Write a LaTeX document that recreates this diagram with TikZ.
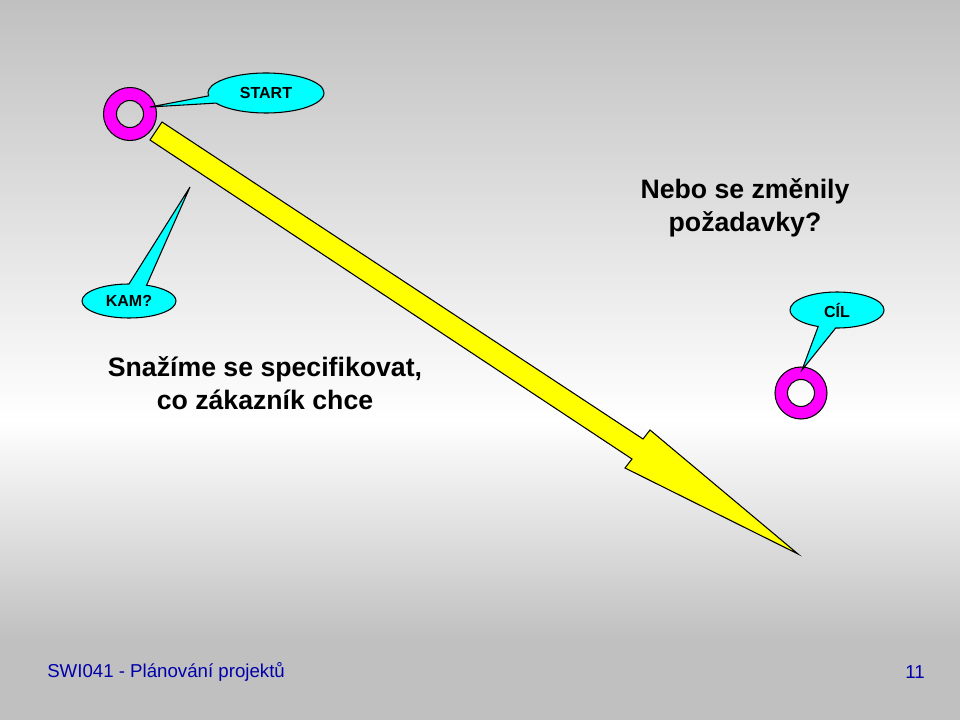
\documentclass[tikz,border=0pt]{standalone}
\usepackage{fontspec}
\setmainfont{Liberation Sans}
\usetikzlibrary{shapes.callouts}
\definecolor{bggray}{RGB}{192,192,192}
\definecolor{ringpink}{RGB}{255,0,255}
\definecolor{bubblecyan}{RGB}{0,255,255}
\definecolor{arrowyellow}{RGB}{255,255,0}
\definecolor{footblue}{RGB}{0,0,170}

\begin{document}
\begin{tikzpicture}[
    x=0.75pt,
    y=-0.75pt,
    line join=miter
]

\tikzset{
    bubble/.style={
        ellipse callout,
        draw=black,
        fill=bubblecyan,
        line width=0.8pt,
        inner sep=0pt,
        font=\fontsize{12}{14}\selectfont\bfseries
    },
    ring/.style={
        draw=black,
        fill=ringpink,
        line width=0.8pt,
        even odd rule
    },
    big/.style={
        align=center,
        inner sep=0pt,
        font=\fontsize{20}{24.5}\selectfont\bfseries
    },
    foot/.style={
        inner sep=0pt,
        text=footblue,
        font=\fontsize{14}{16}\selectfont
    }
}

\useasboundingbox (0,0) rectangle (960,720);
\shade[top color=bggray, bottom color=white] (0,0) rectangle (960,420);
\shade[top color=white, bottom color=bggray] (0,420) rectangle (960,640);
\fill[bggray] (0,640) rectangle (960,720);

\draw[ring] (130,114) circle[radius=26.5] (130,114) circle[radius=13.5];
\draw[ring] (801,393) circle[radius=26] (801,393) circle[radius=13.5];

\coordinate (starttip) at (150,107);
\coordinate (kamtip) at (190,187);
\coordinate (ciltip) at (802,370);

\draw[fill=arrowyellow, line width=0.8pt]
(162,122) -- (643,439) -- (650,430) -- (798,554)
-- (625,468) -- (632,459) -- (150,140) -- cycle;

\node[
    bubble,
    minimum width=87pt,
    minimum height=30pt,
    callout absolute pointer=(starttip),
    callout pointer arc=22
] (start) at (266,93) {START};

\node[
    bubble,
    minimum width=70.5pt,
    minimum height=25.5pt,
    callout absolute pointer=(kamtip),
    callout pointer arc=22
] (kam) at (129,301) {KAM?};

\node[
    bubble,
    minimum width=70.5pt,
    minimum height=27pt,
    callout absolute pointer=(ciltip),
    callout pointer arc=22
] (cil) at (837,310) {CÍL};

\node[big] (want) at (265,383) {Snažíme se specifikovat,\\co zákazník chce};
\node[big] (change) at (745,208) {Nebo se změnily\\požadavky?};

\node[foot, anchor=west] (footer) at (47,672) {SWI041 - Plánování projektů};
\node[foot, anchor=east] (pagenum) at (925,672) {11};

\end{tikzpicture}
\end{document}
